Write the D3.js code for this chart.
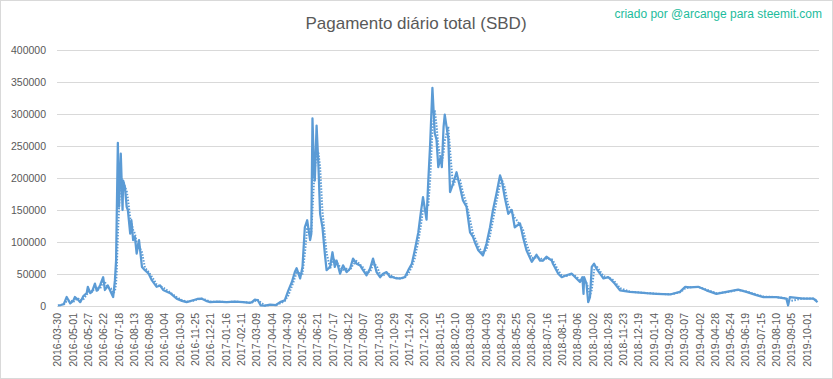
<!DOCTYPE html>
<html><head><meta charset="utf-8">
<script src="https://cdn.jsdelivr.net/npm/d3@7"></script>
<style>body{margin:0;background:#fff}svg{display:block}</style>
</head><body>
<svg id="c" width="833" height="379"></svg>
<script>
const title = "Pagamento diário total (SBD)";
const credit = "criado por @arcange para steemit.com";
const tickLabels = ["2016-03-30","2016-05-01","2016-05-27","2016-06-22","2016-07-18","2016-08-13","2016-09-08","2016-10-04","2016-10-30","2016-11-25","2016-12-21","2017-01-16","2017-02-11","2017-03-09","2017-04-04","2017-04-30","2017-05-26","2017-06-21","2017-07-17","2017-08-12","2017-09-07","2017-10-03","2017-10-29","2017-11-24","2017-12-20","2018-01-15","2018-02-10","2018-03-08","2018-04-03","2018-04-29","2018-05-25","2018-06-20","2018-07-16","2018-08-11","2018-09-06","2018-10-02","2018-10-28","2018-11-23","2018-12-19","2019-01-14","2019-02-09","2019-03-07","2019-04-02","2019-04-28","2019-05-24","2019-06-19","2019-07-15","2019-08-10","2019-09-05","2019-10-01"];
const tickStep = 26;          // categories between labels
const categoryCount = 1296;   // daily categories on the axis
const yTicks = [0,50000,100000,150000,200000,250000,300000,350000,400000];

// day index (category) and daily payout (SBD)
const day = [1,6,11,16,22,27,30,35,39,44,50,52,56,59,64,67,69,73,78,81,86,91,95,98,100,101,103,105,108,111,112,115,118,120,124,126,129,132,135,139,144,149,155,161,169,175,180,192,203,212,220,231,238,246,253,260,273,288,302,316,328,331,336,341,346,353,362,372,379,387,393,399,404,407,413,417,421,425,430,432,434,437,438,441,444,447,451,455,458,464,468,472,475,481,486,492,498,503,509,515,520,526,532,537,543,549,554,560,566,571,577,583,591,597,603,608,614,618,622,628,631,634,638,642,645,648,652,654,657,659,665,668,673,679,685,690,696,702,707,710,716,724,730,736,741,747,753,756,761,767,773,778,787,792,798,807,815,821,826,832,841,843,852,858,866,875,883,889,893,895,896,900,903,906,909,913,917,923,929,937,943,948,957,974,991,1002,1019,1042,1059,1068,1076,1090,1104,1121,1138,1158,1172,1189,1201,1223,1240,1243,1246,1269,1286,1293];
const payout = [1000,1500,3000,14000,4000,8000,14000,10000,6000,15000,20000,30000,20000,22000,35000,24000,25000,33000,45000,25000,32000,22000,14000,40000,71000,134000,255000,155000,238000,150000,196000,186000,155000,150000,113000,134000,103000,108000,82000,103000,61000,56000,51000,40000,30000,32000,25000,20000,11500,8000,6000,9000,11000,11500,8000,6000,7000,6000,7000,6000,5000,6000,10000,9000,1000,500,2000,1500,6000,9000,24500,37500,53000,59000,43000,61000,123000,134000,103000,113000,293000,201000,196000,282000,222000,144000,123000,82000,56000,61000,84000,61000,71000,50500,63500,53000,58500,74000,66000,63500,56000,48000,58500,74000,53000,45000,50500,53000,45000,45000,43000,43000,45000,56000,66000,87000,115000,144000,170000,135000,196000,250000,341000,270000,260000,217000,233000,217000,280000,299000,262000,178000,191000,209000,185000,165000,155000,115000,108000,100000,87000,79000,97500,123000,150000,176000,204000,196000,170000,144000,150000,123000,129000,108000,87000,69000,80000,71000,71000,77000,71000,66000,50500,45000,48000,50500,43000,37500,45000,19000,45000,35000,6000,14000,61000,66000,58500,50500,43000,45000,40000,35000,24500,22000,21000,20000,19000,18000,22000,30000,29000,30000,24500,19000,22000,25500,22000,17000,14000,14000,11500,1000,14000,11500,11500,6000];
const maPeriod = 7; // moving-average trendline period (days)

const W = 833, H = 379;
const svg = d3.select("#c");
const blue = "#5B9BD5", grid = "#d9d9d9", txt = "#595959";
const font = "'Liberation Sans', Arial, sans-serif";

svg.append("rect").attr("x",0.5).attr("y",0.5).attr("width",W-1).attr("height",H-1)
  .attr("fill","#fff").attr("stroke",grid);

const x = d3.scaleLinear().domain([-0.5, categoryCount-0.5]).range([57, 819]);
const y = d3.scaleLinear().domain([0, 400000]).range([306, 50]);

// gridlines
svg.append("g").selectAll("line").data(yTicks).join("line")
  .attr("x1",57).attr("x2",819)
  .attr("y1",d=>Math.round(y(d))+0.5).attr("y2",d=>Math.round(y(d))+0.5)
  .attr("stroke",grid).attr("stroke-width",1);

// y axis labels
const yAxis = d3.axisLeft(y).tickValues(yTicks).tickSize(0).tickPadding(0).tickFormat(d3.format("d"));
const gy = svg.append("g").attr("transform","translate(46,0)").call(yAxis);
gy.select(".domain").remove();
gy.selectAll("text").attr("fill",txt).style("font-family",font).style("font-size","10.5px");

// x axis labels
const tickIdx = tickLabels.map((_,i)=>i*tickStep);
const xAxis = d3.axisBottom(x).tickValues(tickIdx).tickSize(0).tickFormat((d,i)=>tickLabels[i]);
const gx = svg.append("g").attr("transform","translate(0,306)").call(xAxis);
gx.select(".domain").remove();
gx.selectAll("text").attr("fill",txt).style("font-family",font).style("font-size","10.5px")
  .attr("text-anchor","end").attr("transform","rotate(-90)")
  .attr("x",-7).attr("y",0).attr("dy","0.35em");

// series
const pts = day.map((d,i)=>({d, v: payout[i]}));
const line = d3.line().x(p=>x(p.d)).y(p=>y(p.v));
svg.append("path").datum(pts).attr("d",line).attr("fill","none")
  .attr("stroke",blue).attr("stroke-width",2.25).attr("stroke-linejoin","round");

// moving-average trendline (as in the original chart)
const valAt = t => {
  if (t <= day[0]) return payout[0];
  const j = d3.bisectLeft(day, t);
  if (j >= day.length) return payout[payout.length-1];
  const d0=day[j-1], d1=day[j];
  return payout[j-1] + (payout[j]-payout[j-1])*(t-d0)/(d1-d0);
};
const trend = pts.filter(p=>p.d>=day[0]+maPeriod-1).map(p=>{
  let s=0; for(let k=0;k<maPeriod;k++) s+=valAt(p.d-k);
  return {d:p.d, v:s/maPeriod};
});
svg.append("path").datum(trend).attr("d",line).attr("fill","none")
  .attr("stroke",blue).attr("stroke-width",2).attr("stroke-dasharray","1.5,1.5");

// titles
svg.append("text").attr("x",416).attr("y",29).attr("text-anchor","middle")
  .attr("fill",txt).style("font-family",font).style("font-size","17px").text(title);
svg.append("text").attr("x",822).attr("y",18).attr("text-anchor","end")
  .attr("fill","#1dbc9c").style("font-family",font).style("font-size","12px").text(credit);
</script>
</body></html>
